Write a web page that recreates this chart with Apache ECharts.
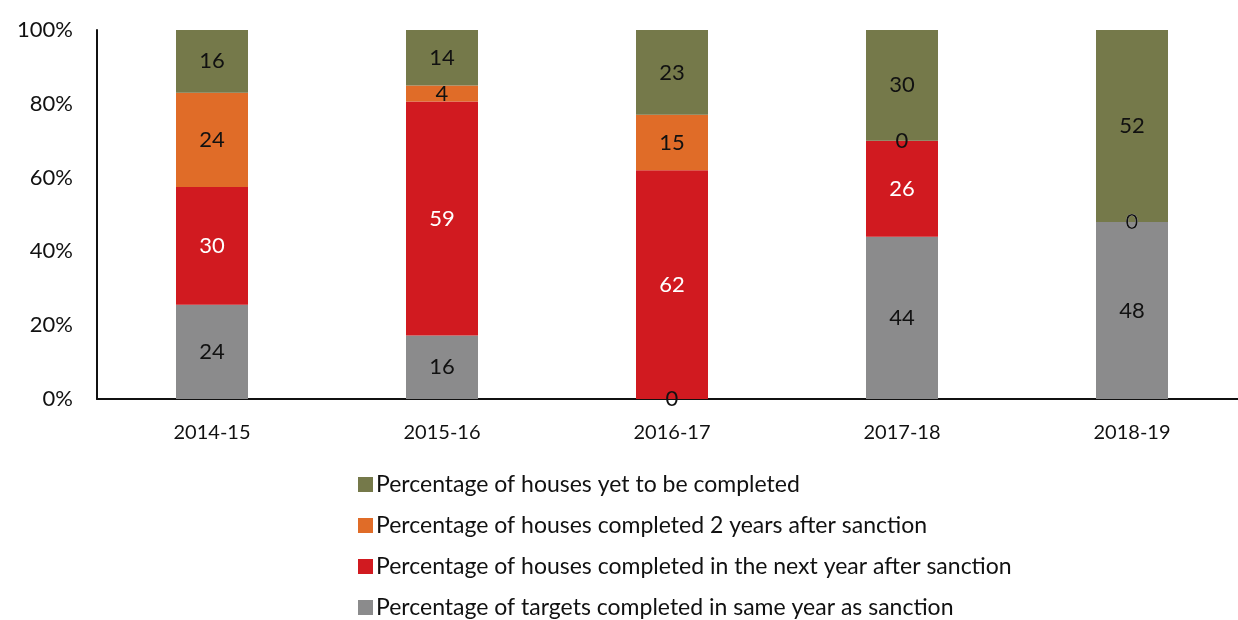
<!DOCTYPE html>
<html>
<head>
  <meta charset="utf-8">
  <title>Houses completed</title>
  <script src="https://cdn.jsdelivr.net/npm/echarts@6/dist/echarts.min.js"></script>
  <style type="text/css">
    body { margin: 0; background: #fff; }
    #chart { width: 1238px; height: 620px; }
  </style>
</head>
<body>
<div id="chart"></div>
<script>
  // 数据
  var years = ['2014-15', '2015-16', '2016-17', '2017-18', '2018-19'];
  var sameYear = [24, 16, 0, 44, 48];
  var nextYear = [30, 59, 62, 26, 0];
  var twoYears = [24, 4, 15, 0, 0];
  var yetToComplete = [16, 14, 23, 30, 52];
  var yTicks = [0, 20, 40, 60, 80, 100];

  var names = [
    'Percentage of targets completed in same year as sanction',
    'Percentage of houses completed in the next year after sanction',
    'Percentage of houses completed 2 years after sanction',
    'Percentage of houses yet to be completed'
  ];
  var colors = ['#8b8b8c', '#d11a20', '#e06c28', '#75794a'];
  var labelColors = ['#111', '#fff', '#111', '#111'];
  var raw = [sameYear, nextYear, twoYears, yetToComplete];

  // 每年合计，用于换算成百分比
  var totals = years.map(function (y, i) {
    return raw.reduce(function (s, arr) { return s + arr[i]; }, 0);
  });

  var fontFamily = 'Lato, "Open Sans", sans-serif';

  var series = raw.map(function (arr, k) {
    return {
      name: names[k],
      type: 'bar',
      stack: 'total',
      barWidth: 72,
      itemStyle: { color: colors[k] },
      label: {
        show: true,
        position: 'inside',
        color: labelColors[k],
        fontSize: 22,
        fontFamily: fontFamily,
        formatter: function (p) { return arr[p.dataIndex]; }
      },
      data: arr.map(function (v, i) { return v / totals[i] * 100; })
    };
  });

  var chart = echarts.init(document.getElementById('chart'));
  chart.setOption({
    animation: false,
    textStyle: { fontFamily: fontFamily },
    grid: { left: 97, width: 1150, top: 30, height: 369, outerBoundsMode: 'none', containLabel: false },
    legend: {
      orient: 'vertical',
      left: 353,
      top: 468,
      height: 300,
      itemWidth: 15,
      itemHeight: 15,
      itemGap: 18,
      icon: 'rect',
      data: names.slice().reverse(),
      textStyle: { fontSize: 23, color: '#111', fontFamily: fontFamily, padding: [0, 0, 0, -2] }
    },
    xAxis: {
      type: 'category',
      data: years,
      axisLine: { lineStyle: { color: '#111', width: 2 } },
      axisTick: { show: false },
      axisLabel: { color: '#111', fontSize: 20, margin: 24 }
    },
    yAxis: {
      type: 'value',
      min: yTicks[0],
      max: yTicks[yTicks.length - 1],
      interval: 20,
      axisLine: { show: true, lineStyle: { color: '#111', width: 2 } },
      axisTick: { show: false },
      splitLine: { show: false },
      axisLabel: { color: '#111', fontSize: 22, margin: 24, formatter: '{value}%' }
    },
    series: series
  });
</script>
</body>
</html>
